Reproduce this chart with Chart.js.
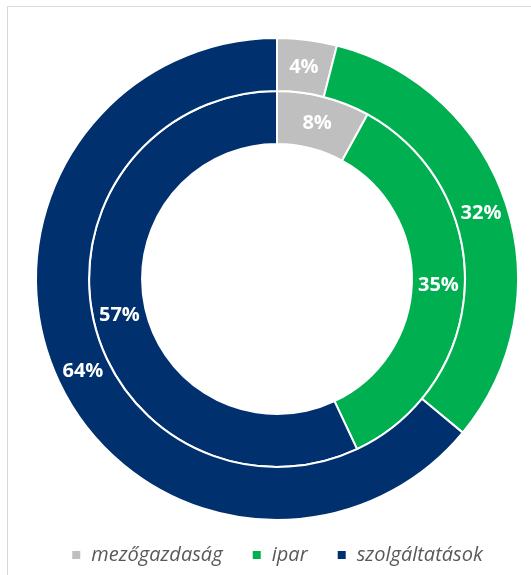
<!DOCTYPE html>
<html>
<head>
<meta charset="utf-8">
<script src="https://cdn.jsdelivr.net/npm/chart.js@4/dist/chart.umd.min.js"></script>
<style>
  body { margin: 0; background: #fff; }
  .frame { position: absolute; left: 7px; top: 6px; width: 600px; height: 620px; border: 1px solid #d9d9d9; }
  #chart { position: absolute; left: 0; top: 0; }
</style>
</head>
<body>
<div class="frame"></div>
<canvas id="chart" width="531" height="575"></canvas>
<script>
// Ágazatok és arányok
const categories = ['mezőgazdaság', 'ipar', 'szolgáltatások'];
const outerValues = [4, 32, 64];
const innerValues = [8, 35, 57];
const colors = ['#bfbfbf', '#00b050', '#00306e'];

// Címkék a szeletek közepére
const sliceLabels = {
  id: 'sliceLabels',
  afterDatasetsDraw(chart) {
    const ctx = chart.ctx;
    ctx.save();
    ctx.fillStyle = '#fff';
    ctx.font = 'bold 20px "Open Sans"';
    ctx.textAlign = 'center';
    ctx.textBaseline = 'middle';
    chart.data.datasets.forEach(function(ds, i) {
      chart.getDatasetMeta(i).data.forEach(function(arc, j) {
        const p = arc.getCenterPoint();
        ctx.fillText(ds.data[j] + '%', p.x, p.y + 1);
      });
    });
    ctx.restore();
  }
};

document.addEventListener('DOMContentLoaded', function() {
  new Chart(document.getElementById('chart'), {
    type: 'doughnut',
    data: {
      labels: categories,
      datasets: [
        { data: outerValues, backgroundColor: colors, borderColor: '#fff', borderWidth: 2 },
        { data: innerValues, backgroundColor: colors, borderColor: '#fff', borderWidth: 2 }
      ]
    },
    options: {
      responsive: false,
      animation: false,
      cutout: '56%',
      layout: { padding: { left: 35, right: 12, top: 37, bottom: 0 } },
      plugins: {
        tooltip: { enabled: false },
        legend: {
          position: 'bottom',
          labels: {
            boxWidth: 10,
            boxHeight: 10,
            padding: 24,
            color: '#595959',
            font: { family: '"Open Sans"', size: 20, style: 'italic' },
            generateLabels: function(chart) {
              const items = Chart.overrides.doughnut.plugins.legend.labels.generateLabels(chart);
              // kis plusz térköz az elemek között
              items.forEach(function(it, i) {
                if (i < items.length - 1) it.text = it.text + ' ';
              });
              return items;
            }
          }
        }
      }
    },
    plugins: [sliceLabels]
  });
});
</script>
</body>
</html>
